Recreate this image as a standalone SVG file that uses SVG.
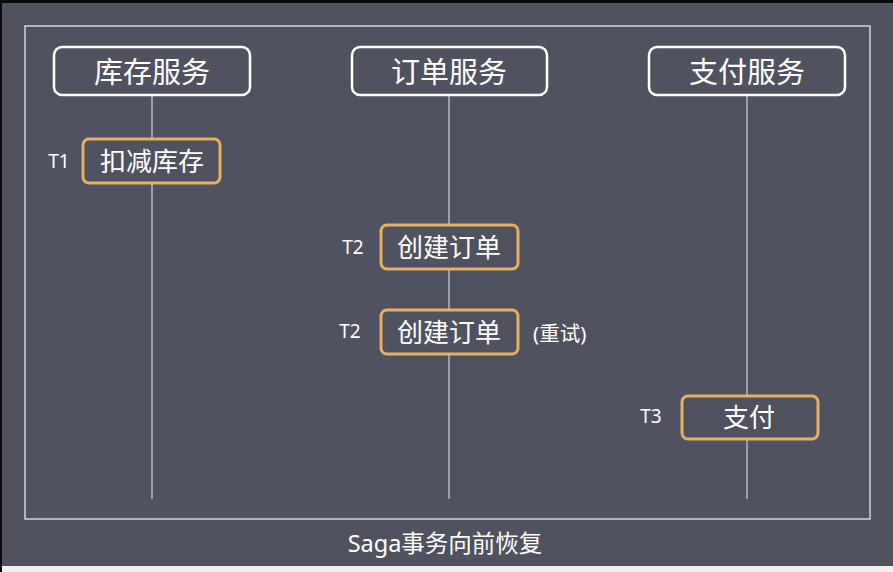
<svg xmlns="http://www.w3.org/2000/svg" width="893" height="572" viewBox="0 0 893 572">
<style>
.hdr{fill:#50535f;stroke:#ffffff;stroke-width:2.5}
.act{fill:#50535f;stroke:#e6b062;stroke-width:3}
.life{stroke:#c9c9cc;stroke-width:1.3}
text{font-family:"Noto Sans","Noto Sans CJK SC",sans-serif;fill:#ffffff;dominant-baseline:central}
.ht{font-size:29px;text-anchor:middle}
.at{font-size:26px;text-anchor:middle}
.lb{font-size:19px;text-anchor:middle}
</style>
<rect x="0" y="0" width="893" height="572" fill="#0a0a0a"/>
<rect x="2" y="3" width="891" height="563" fill="#50535f"/>
<rect x="2" y="566" width="891" height="6" fill="#f0f0f2"/>
<rect x="25" y="26" width="845" height="493" fill="none" stroke="#e8e8ea" stroke-width="1.3"/>
<g id="connectors">
<line class="life" x1="152" y1="95" x2="152" y2="499"/>
<line class="life" x1="449" y1="95" x2="449" y2="499"/>
<line class="life" x1="747" y1="95" x2="747" y2="499"/>
</g>
<g id="inventory-service">
<rect class="hdr" x="54" y="47" width="196" height="48" rx="8"/>
<text class="ht" x="152" y="71">库存服务</text>
</g>
<g id="order-service">
<rect class="hdr" x="352" y="47" width="195" height="48" rx="8"/>
<text class="ht" x="449" y="71">订单服务</text>
</g>
<g id="payment-service">
<rect class="hdr" x="649" y="47" width="196" height="48" rx="8"/>
<text class="ht" x="747" y="71">支付服务</text>
</g>
<g id="t1-deduct">
<text class="lb" x="59" y="161">T1</text>
<rect class="act" x="83" y="139" width="137" height="44" rx="6"/>
<text class="at" x="152" y="161">扣减库存</text>
</g>
<g id="t2-create">
<text class="lb" x="353" y="247">T2</text>
<rect class="act" x="381" y="225" width="137" height="44" rx="6"/>
<text class="at" x="449" y="247">创建订单</text>
</g>
<g id="t2-retry">
<text class="lb" x="350" y="331">T2</text>
<rect class="act" x="381" y="310" width="137" height="44" rx="6"/>
<text class="at" x="449" y="332">创建订单</text>
<text x="533" y="333" font-size="20.5">(重试)</text>
</g>
<g id="t3-pay">
<text class="lb" x="651" y="416">T3</text>
<rect class="act" x="682" y="396" width="136" height="43" rx="6"/>
<text class="at" x="749" y="417">支付</text>
</g>
<text x="445" y="543" font-size="23.5" text-anchor="middle">Saga事务向前恢复</text>
</svg>
